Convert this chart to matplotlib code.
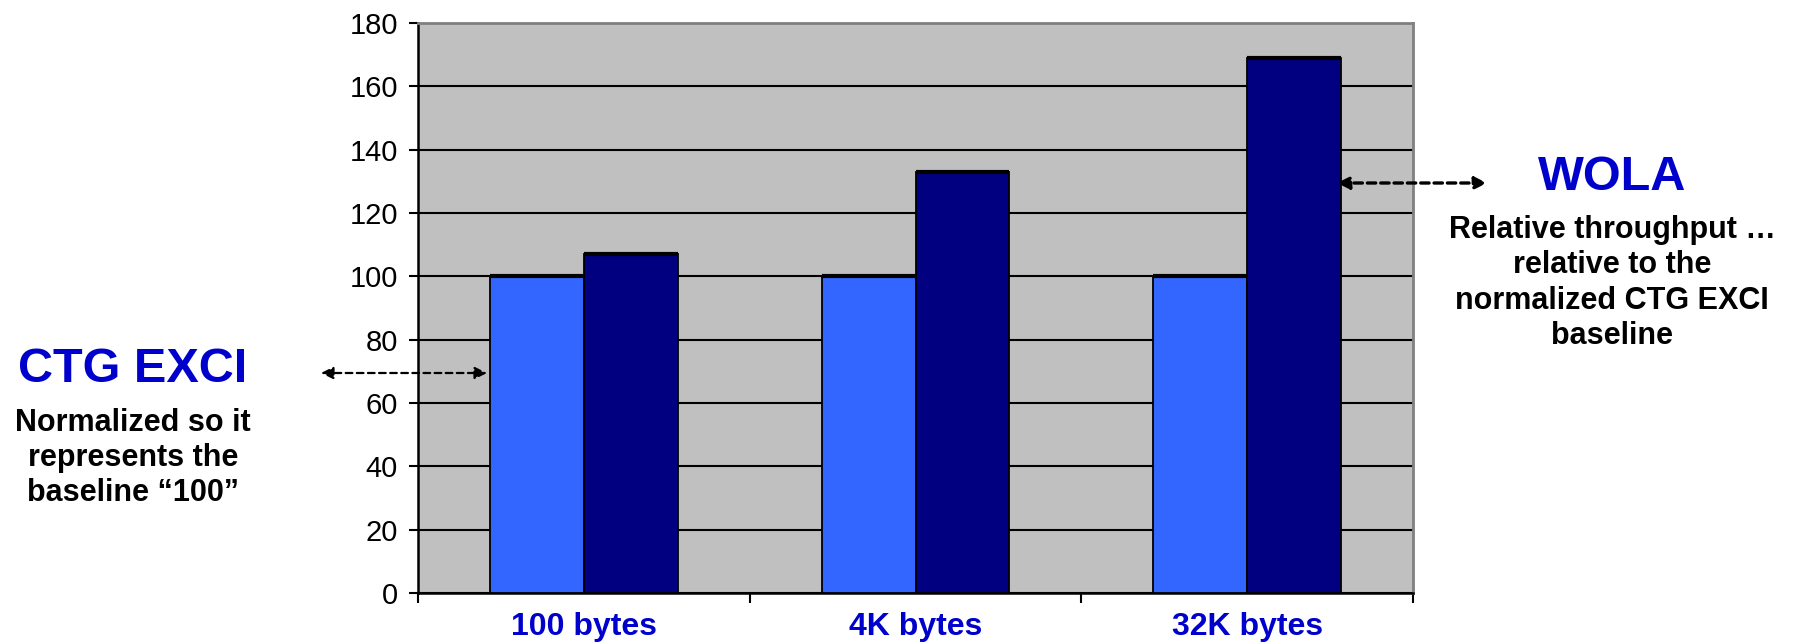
import matplotlib
matplotlib.use("Agg")
import matplotlib.pyplot as plt
import numpy as np

# ---- data ----
categories = ["100 bytes", "4K bytes", "32K bytes"]
ctg_exci = [100, 100, 100]
wola = [107, 133, 169]
yticks = [0, 20, 40, 60, 80, 100, 120, 140, 160, 180]

plt.rcParams['font.family'] = ['Liberation Sans', 'DejaVu Sans']

W, H = 1794, 643
fig = plt.figure(figsize=(W / 100, H / 100), dpi=100)
ax = fig.add_axes([418 / W, 1 - 593 / H, (1413 - 418) / W, (593 - 23) / H])

ax.set_facecolor('#C0C0C0')
x = np.arange(len(categories))
bw = 0.283

# grid lines
ax.set_axisbelow(True)
ax.yaxis.grid(True, color='black', linewidth=1.5)

ax.bar(x - bw / 2, ctg_exci, width=bw, color='#3366FF', edgecolor='black',
       linewidth=1.3, zorder=3)
ax.bar(x + bw / 2, wola, width=bw, color='#000080', edgecolor='black',
       linewidth=1.3, zorder=3)
# emphasised top edges of bars (Excel style)
ax.hlines(ctg_exci, x - bw, x, colors='black', linewidth=3, zorder=4)
ax.hlines(wola, x, x + bw, colors='black', linewidth=3, zorder=4)

ax.set_xlim(-0.5, len(categories) - 0.5)
ax.set_ylim(0, 180)
ax.set_yticks(yticks)
ax.set_yticklabels([str(v) for v in yticks], fontsize=21, color='black')
ax.tick_params(axis='y', direction='out', length=6.5, width=1.5, pad=8)

# x ticks: major at category boundaries (no labels), minor at centres with labels
ax.set_xticks(np.arange(-0.5, len(categories), 1.0))
ax.set_xticklabels([])
ax.set_xticks(x, minor=True)
ax.set_xticklabels(categories, minor=True, fontsize=23, fontweight='bold',
                   color='#0000CC')
ax.tick_params(axis='x', which='major', direction='out', length=7.5, width=1.5)
ax.tick_params(axis='x', which='minor', length=0, pad=14)

for s in ['left', 'bottom']:
    ax.spines[s].set_color('black')
    ax.spines[s].set_linewidth(1.8)
for s in ['top', 'right']:
    ax.spines[s].set_color('#808080')
    ax.spines[s].set_linewidth(2)

def fx(px):
    return px / W

def fy(py):
    return 1 - py / H

# left annotation
fig.text(fx(133), fy(370), "CTG EXCI", fontsize=35, fontweight='bold',
         color='#0000CC', ha='center', va='center')
fig.text(fx(133), fy(458), "Normalized so it\nrepresents the\nbaseline \u201c100\u201d",
         fontsize=22, fontweight='bold', color='black', ha='center',
         va='center', linespacing=1.22)
ax.annotate('', xy=(fx(487), fy(373)), xytext=(fx(321), fy(373)),
            xycoords='figure fraction', textcoords='figure fraction',
            arrowprops=dict(arrowstyle='<|-|>', linestyle=(0, (3, 2)),
                            linewidth=1.6, color='black',
                            mutation_scale=18, shrinkA=0, shrinkB=0),
            annotation_clip=False)

# right annotation
fig.text(fx(1612), fy(178), "WOLA", fontsize=35, fontweight='bold',
         color='#0000CC', ha='center', va='center')
fig.text(fx(1612), fy(283),
         "Relative throughput \u2026\nrelative to the\nnormalized CTG EXCI\nbaseline",
         fontsize=22, fontweight='bold', color='black', ha='center',
         va='center', linespacing=1.22)
ax.annotate('', xy=(fx(1487), fy(183)), xytext=(fx(1337), fy(183)),
            xycoords='figure fraction', textcoords='figure fraction',
            arrowprops=dict(arrowstyle='<|-|>', linestyle=(0, (2.5, 1.5)),
                            linewidth=2.4, color='black',
                            mutation_scale=18, shrinkA=0, shrinkB=0),
            annotation_clip=False)

fig.savefig('out.png', dpi=100)
